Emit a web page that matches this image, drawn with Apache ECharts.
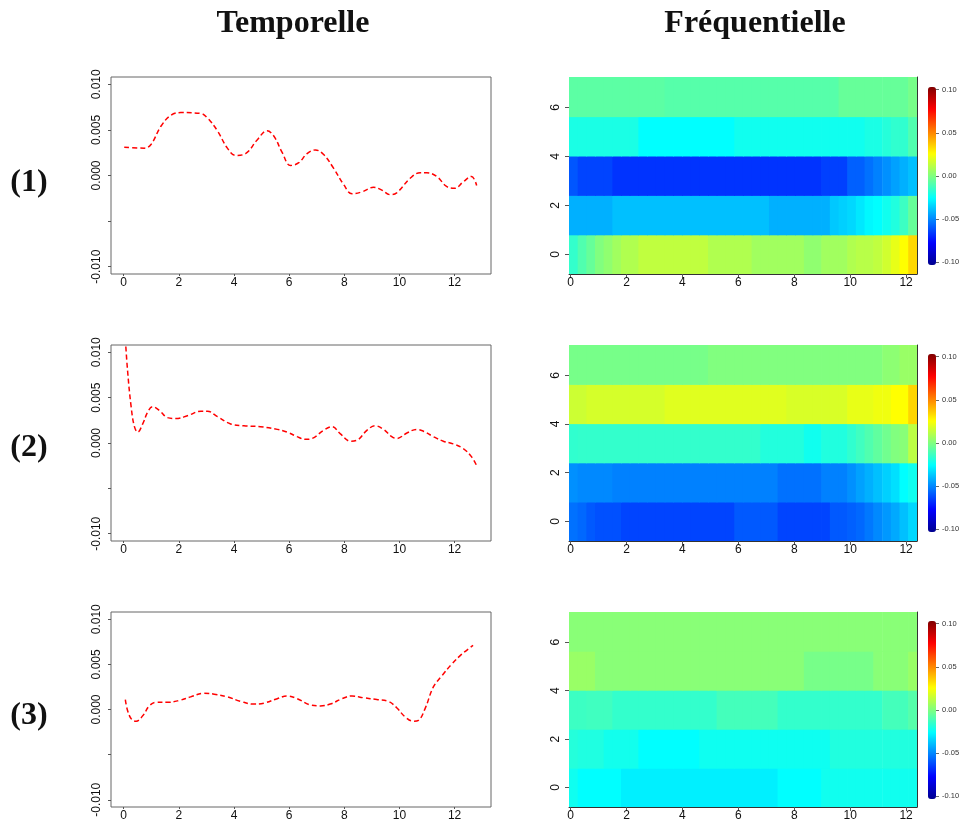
<!DOCTYPE html>
<html>
<head>
<meta charset="utf-8">
<script src="https://cdn.jsdelivr.net/npm/echarts@6/dist/echarts.min.js"></script>
<style>
html,body{margin:0;padding:0;background:#fff;}
#chart{width:963px;height:826px;}
</style>
</head>
<body>
<div id="chart"></div>
<script>
// ---------- Titles ----------
const colTitles = ['Temporelle', 'Fréquentielle'];
const rowLabels = ['(1)', '(2)', '(3)'];

// ---------- Temporal series (x, y) ----------
const tempX1 = [0.02,0.75,0.99,1.35,1.71,2.07,2.8,3.04,3.4,3.76,4.06,4.42,4.84,5.2,5.45,5.75,6.05,6.35,6.65,6.95,7.25,7.61,7.98,8.28,8.64,9.06,9.36,9.66,9.9,10.39,10.75,10.99,11.35,11.71,12.01,12.31,12.61,12.8];
const tempY1 = [0.0031,0.0030,0.0034,0.0054,0.0066,0.0069,0.0068,0.0063,0.0049,0.0030,0.0022,0.0024,0.0039,0.0049,0.0043,0.0025,0.0011,0.0014,0.0024,0.0028,0.0023,0.0008,-0.0010,-0.0020,-0.0018,-0.0013,-0.0016,-0.0021,-0.0019,-0.0003,0.0003,0.0003,-0.0001,-0.0012,-0.0014,-0.0007,-0.0001,-0.0011];

const tempX2 = [0.06,0.14,0.27,0.39,0.51,0.69,0.87,1.05,1.29,1.59,1.89,2.31,2.8,3.04,3.4,3.88,4.36,4.96,5.57,5.93,6.29,6.59,6.83,7.25,7.55,7.86,8.22,8.46,8.82,9.12,9.42,9.72,9.9,10.27,10.63,10.87,11.23,11.59,11.95,12.31,12.61,12.8];
const tempY2 = [0.0115,0.0080,0.0040,0.0018,0.0012,0.0021,0.0034,0.0040,0.0036,0.0028,0.0027,0.0030,0.0035,0.0035,0.0029,0.0021,0.0019,0.0018,0.0015,0.0012,0.0007,0.0004,0.0005,0.0014,0.0018,0.0010,0.0002,0.0003,0.0014,0.0019,0.0015,0.0007,0.0005,0.0011,0.0015,0.0013,0.0007,0.0002,-0.0001,-0.0006,-0.0015,-0.0025];

const tempX3 = [0.06,0.14,0.29,0.45,0.69,0.93,1.17,1.59,2.01,2.43,2.92,3.28,3.76,4.24,4.72,5.08,5.57,5.93,6.29,6.77,7.13,7.49,7.92,8.28,8.7,9.18,9.6,9.9,10.2,10.51,10.69,10.93,11.23,11.53,11.89,12.25,12.67];
const tempY3 = [0.0011,-0.0001,-0.0011,-0.0013,-0.0007,0.0004,0.0008,0.0008,0.0010,0.0014,0.0018,0.0017,0.0014,0.0009,0.0006,0.0007,0.0012,0.0015,0.0012,0.0005,0.0004,0.0006,0.0012,0.0015,0.0013,0.0011,0.0009,0.0002,-0.0008,-0.0013,-0.0012,0.0001,0.0025,0.0037,0.0050,0.0061,0.0071];

const tempXTicks = [0, 2, 4, 6, 8, 10, 12];
const tempYTicks = [-0.01, -0.005, 0, 0.005, 0.01];
const tempYLabels = [-0.01, 0, 0.005, 0.01];

// ---------- Frequency heatmaps ----------
const freqX = [0.10,0.41,0.72,1.03,1.34,1.65,1.96,2.27,2.58,2.89,3.21,3.52,3.83,4.14,4.45,4.76,5.07,5.38,5.70,6.01,6.32,6.63,6.94,7.25,7.56,7.87,8.18,8.50,8.81,9.12,9.43,9.74,10.05,10.36,10.67,10.98,11.30,11.61,11.92,12.23];
const freqY = [0, 1.61, 3.22, 4.83, 6.44];
const freqXTicks = [0, 2, 4, 6, 8, 10, 12];
const freqYTicks = [0, 2, 4, 6];
const colorbarTicks = [-0.1, -0.05, 0, 0.05, 0.1];

// heatmap (1), rows from y=0 upward
const hm1Row0 = [-0.015,-0.0093,-0.005,0.0001,0.0032,0.0064,0.0095,0.0095,0.0126,0.0126,0.0126,0.0126,0.0126,0.0126,0.0126,0.0126,0.0095,0.0095,0.0095,0.0095,0.0095,0.0064,0.0064,0.0064,0.0064,0.0064,0.0064,0.0032,0.0032,0.0064,0.0064,0.0064,0.0095,0.011,0.011,0.0126,0.0158,0.0205,0.025,0.0326];
const hm1Row1 = [-0.0405,-0.0405,-0.0405,-0.0405,-0.0405,-0.0374,-0.0374,-0.0374,-0.0374,-0.0374,-0.0374,-0.0374,-0.0374,-0.0374,-0.0374,-0.0374,-0.0374,-0.0374,-0.0374,-0.0374,-0.0374,-0.0374,-0.0374,-0.0405,-0.0405,-0.0405,-0.0405,-0.0405,-0.0405,-0.0405,-0.0358,-0.0342,-0.0326,-0.0295,-0.0264,-0.025,-0.0219,-0.0187,-0.0132,-0.005];
const hm1Row2 = [-0.0583,-0.0617,-0.0617,-0.0617,-0.0617,-0.065,-0.065,-0.065,-0.065,-0.065,-0.065,-0.065,-0.065,-0.065,-0.065,-0.065,-0.065,-0.065,-0.065,-0.065,-0.065,-0.065,-0.065,-0.065,-0.065,-0.065,-0.065,-0.065,-0.065,-0.0625,-0.0625,-0.0625,-0.0562,-0.0562,-0.053,-0.0499,-0.0468,-0.0436,-0.0405,-0.0374];
const hm1Row3 = [-0.0199,-0.0199,-0.0199,-0.0199,-0.0199,-0.0199,-0.0199,-0.0199,-0.025,-0.025,-0.025,-0.025,-0.025,-0.025,-0.025,-0.025,-0.025,-0.025,-0.025,-0.0219,-0.0219,-0.0219,-0.0219,-0.0219,-0.0219,-0.0219,-0.0219,-0.0219,-0.0219,-0.0219,-0.0219,-0.0219,-0.0219,-0.0219,-0.0199,-0.0199,-0.0178,-0.0156,-0.0156,-0.0093];
const hm1Row4 = [-0.007,-0.007,-0.007,-0.007,-0.007,-0.007,-0.007,-0.007,-0.007,-0.007,-0.007,-0.0083,-0.0083,-0.0083,-0.0083,-0.0083,-0.0083,-0.0083,-0.0083,-0.0083,-0.0083,-0.0083,-0.0083,-0.0083,-0.0083,-0.0083,-0.0083,-0.0083,-0.0083,-0.0083,-0.0083,-0.005,-0.005,-0.005,-0.005,-0.005,-0.005,-0.005,-0.005,-0.0017];

// heatmap (2)
const hm2Row0 = [-0.053,-0.0546,-0.0577,-0.0593,-0.0593,-0.0593,-0.0617,-0.0617,-0.0617,-0.0617,-0.0617,-0.0617,-0.0617,-0.0617,-0.0617,-0.0617,-0.0617,-0.0617,-0.0617,-0.0577,-0.0577,-0.0577,-0.0577,-0.0577,-0.0617,-0.0617,-0.0617,-0.0617,-0.0617,-0.0617,-0.0577,-0.0577,-0.0562,-0.0546,-0.0515,-0.0483,-0.0452,-0.042,-0.0374,-0.0326];
const hm2Row1 = [-0.0468,-0.0483,-0.0483,-0.0483,-0.0483,-0.0499,-0.0499,-0.0499,-0.0499,-0.0499,-0.0499,-0.0499,-0.0499,-0.0499,-0.0499,-0.0499,-0.0499,-0.0499,-0.0499,-0.0499,-0.0499,-0.0499,-0.0499,-0.0499,-0.053,-0.053,-0.053,-0.053,-0.053,-0.0499,-0.0499,-0.0499,-0.0468,-0.0436,-0.0405,-0.0374,-0.0342,-0.0311,-0.025,-0.0219];
const hm2Row2 = [-0.0156,-0.015,-0.015,-0.015,-0.015,-0.015,-0.015,-0.015,-0.015,-0.015,-0.015,-0.015,-0.015,-0.015,-0.015,-0.015,-0.015,-0.015,-0.015,-0.015,-0.015,-0.015,-0.0183,-0.0183,-0.0183,-0.0183,-0.0183,-0.0219,-0.0219,-0.0187,-0.0187,-0.0187,-0.0156,-0.0125,-0.0093,-0.0062,-0.003,0.0001,0.0015,0.0118];
const hm2Row3 = [0.015,0.015,0.0168,0.0168,0.0168,0.0168,0.0168,0.0168,0.0168,0.0168,0.0168,0.0189,0.0189,0.0189,0.0189,0.0189,0.0189,0.0189,0.0189,0.0189,0.0189,0.0189,0.0189,0.0189,0.0189,0.0174,0.0174,0.0174,0.0174,0.0174,0.0174,0.0174,0.0205,0.0205,0.0205,0.022,0.022,0.025,0.025,0.0333];
const hm2Row4 = [-0.0017,-0.0017,-0.0017,-0.0017,-0.0017,-0.0017,-0.0017,-0.0017,-0.0017,-0.0017,-0.0017,-0.0017,-0.0017,-0.0017,-0.0017,-0.0017,0.0001,0.0001,0.0001,0.0001,0.0001,0.0001,0.0001,0.0001,0.0001,0.0001,0.0001,0.0001,0.0001,0.0001,0.0001,0.0001,0.0001,0.0001,0.0001,0.0001,0.0025,0.0025,0.005,0.005];

// heatmap (3)
const hm3Row0 = [-0.022,-0.025,-0.025,-0.025,-0.025,-0.025,-0.0279,-0.0279,-0.0279,-0.0279,-0.0279,-0.0279,-0.0279,-0.0279,-0.0279,-0.0279,-0.0279,-0.0279,-0.0279,-0.0279,-0.0279,-0.0279,-0.0279,-0.0279,-0.025,-0.025,-0.025,-0.025,-0.025,-0.0219,-0.0219,-0.0219,-0.0219,-0.0219,-0.0219,-0.0219,-0.0219,-0.0219,-0.0219,-0.0219];
const hm3Row1 = [-0.018,-0.019,-0.019,-0.019,-0.0215,-0.0215,-0.0215,-0.0215,-0.025,-0.025,-0.025,-0.025,-0.025,-0.025,-0.025,-0.0222,-0.0222,-0.0222,-0.0222,-0.0222,-0.0222,-0.0222,-0.0222,-0.0222,-0.0222,-0.0222,-0.0222,-0.0222,-0.0222,-0.0222,-0.0187,-0.0187,-0.0187,-0.0187,-0.0187,-0.0187,-0.0187,-0.0187,-0.0187,-0.0187];
const hm3Row2 = [-0.0132,-0.0132,-0.0125,-0.0125,-0.0125,-0.015,-0.015,-0.015,-0.015,-0.015,-0.015,-0.015,-0.015,-0.015,-0.015,-0.015,-0.015,-0.0117,-0.0117,-0.0117,-0.0117,-0.0117,-0.0117,-0.0117,-0.015,-0.015,-0.015,-0.015,-0.015,-0.015,-0.015,-0.015,-0.015,-0.015,-0.015,-0.015,-0.0117,-0.0117,-0.0117,-0.0083];
const hm3Row3 = [0.005,0.005,0.005,0.0017,0.0017,0.0017,0.0017,0.0017,0.0017,0.0017,0.0017,0.0017,0.0017,0.0017,0.0017,0.0017,0.0017,0.0017,0.0017,0.0017,0.0017,0.0017,0.0017,0.0017,0.0017,0.0017,0.0017,-0.0017,-0.0017,-0.0017,-0.0017,-0.0017,-0.0017,-0.0017,-0.0017,0.0017,0.0017,0.0017,0.0017,0.005];
const hm3Row4 = [0.0017,0.0017,0.0017,0.0017,0.0017,0.0017,0.0017,0.0017,0.0017,0.0017,0.0017,0.0017,0.0017,0.0017,0.0017,0.0017,0.0017,0.0017,0.0017,0.0017,0.0017,0.0017,0.0017,0.0017,0.0017,0.0017,0.0017,0.0017,0.0017,0.0017,0.0017,0.0017,0.0017,0.0017,0.0017,0.0017,0.0017,0.0017,0.0017,0.0017];

// ---------- Build ----------
const CELL_W = 0.31125, CELL_H = 1.61;
const jet = ['#00008F','#0000FF','#0080FF','#00FFFF','#80FF80','#FFFF00','#FF8000','#FF0000','#800000'];
const sansFont = 'Liberation Sans, Arial, sans-serif';
const serifFont = 'Liberation Serif, Times New Roman, serif';

function buildHeat(rows) {
  const out = [];
  rows.forEach((row, j) => row.forEach((v, i) => out.push([freqX[i], freqY[j], v])));
  return out;
}
const heatData = [
  buildHeat([hm1Row0, hm1Row1, hm1Row2, hm1Row3, hm1Row4]),
  buildHeat([hm2Row0, hm2Row1, hm2Row2, hm2Row3, hm2Row4]),
  buildHeat([hm3Row0, hm3Row1, hm3Row2, hm3Row3, hm3Row4])
];
const lineData = [
  tempX1.map((x, i) => [x, tempY1[i]]),
  tempX2.map((x, i) => [x, tempY2[i]]),
  tempX3.map((x, i) => [x, tempY3[i]])
];

const rowTops = [77, 345, 612];
const rowHeights = [197, 196, 195];

const grids = [], xAxes = [], yAxes = [], series = [], visualMaps = [];

// line grids 0..2
for (let r = 0; r < 3; r++) {
  grids.push({left: 111, top: rowTops[r], width: 380, height: rowHeights[r], show: true, borderColor: '#666', borderWidth: 1, backgroundColor: 'transparent'});
  xAxes.push({
    type: 'value', gridIndex: r, min: -0.46, max: 13.32, position: 'bottom',
    axisLine: {show: false, onZero: false}, splitLine: {show: false},
    axisTick: {show: true, length: 2, customValues: tempXTicks, lineStyle: {color: '#555'}},
    axisLabel: {customValues: tempXTicks, margin: 3, fontSize: 12, color: '#111', fontFamily: sansFont}
  });
  yAxes.push({
    type: 'value', gridIndex: r, min: -0.0108, max: 0.0108, position: 'left',
    axisLine: {show: false, onZero: false}, splitLine: {show: false},
    axisTick: {show: true, length: 3, customValues: tempYTicks, lineStyle: {color: '#555'}},
    axisLabel: {customValues: tempYLabels, rotate: 90, margin: 8, fontSize: 12, color: '#111', fontFamily: sansFont,
      formatter: v => v.toFixed(3)}
  });
  series.push({
    type: 'line', xAxisIndex: r, yAxisIndex: r, data: lineData[r], smooth: 0.4, showSymbol: false, symbol: 'none',
    clip: true, lineStyle: {color: '#FF0000', width: 1.5, type: [5, 3]}
  });
}

// heatmap grids 3..5
for (let r = 0; r < 3; r++) {
  const gi = 3 + r;
  grids.push({left: 569, top: rowTops[r], width: 348, height: rowHeights[r]});
  xAxes.push({
    type: 'value', gridIndex: gi, min: -0.056, max: 12.39, position: 'bottom',
    axisLine: {show: true, onZero: false, lineStyle: {color: '#333', width: 1}}, splitLine: {show: false},
    axisTick: {show: true, length: 4, customValues: freqXTicks, lineStyle: {color: '#555'}},
    axisLabel: {customValues: freqXTicks, margin: 3, fontSize: 12, color: '#111', fontFamily: sansFont}
  });
  yAxes.push({
    type: 'value', gridIndex: gi, min: -0.805, max: 7.245, position: 'left',
    axisLine: {show: false, onZero: false}, splitLine: {show: false},
    axisTick: {show: true, length: 4, customValues: freqYTicks, lineStyle: {color: '#555'}},
    axisLabel: {customValues: freqYTicks, rotate: 90, margin: 7, fontSize: 12, color: '#111', fontFamily: sansFont,
      formatter: v => String(Math.round(v))}
  });
}
// right-edge lines of heatmaps: y axes 6..8
for (let r = 0; r < 3; r++) {
  yAxes.push({
    type: 'value', gridIndex: 3 + r, position: 'right', min: -0.805, max: 7.245,
    axisLine: {show: true, onZero: false, lineStyle: {color: '#333', width: 1}},
    axisTick: {show: false}, axisLabel: {show: false}, splitLine: {show: false}
  });
}
// colorbar grids 6..8, x axes 6..8, y axes 9..11
const cbTops = [87, 354, 621];
for (let r = 0; r < 3; r++) {
  const gi = 6 + r;
  grids.push({left: 928, top: cbTops[r], width: 8, height: 178});
  xAxes.push({type: 'value', gridIndex: gi, min: 0, max: 1, show: false});
  yAxes.push({
    type: 'value', gridIndex: gi, position: 'right', min: -0.103, max: 0.103,
    axisLine: {show: false, onZero: false}, splitLine: {show: false},
    axisTick: {show: true, length: 3, customValues: colorbarTicks, lineStyle: {color: '#444', width: 0.8}},
    axisLabel: {customValues: colorbarTicks, margin: 6, fontSize: 7.5, color: '#333', fontFamily: sansFont,
      formatter: v => v.toFixed(2)}
  });
}

function renderCell(params, api) {
  const x = api.value(0), y = api.value(1);
  const p0 = api.coord([x - CELL_W / 2, y + CELL_H / 2]);
  const p1 = api.coord([x + CELL_W / 2, y - CELL_H / 2]);
  return {
    type: 'rect',
    shape: {x: p0[0], y: p0[1], width: p1[0] - p0[0] + 0.7, height: p1[1] - p0[1] + 0.7},
    style: {fill: api.visual('color')}
  };
}
for (let r = 0; r < 3; r++) {
  series.push({
    type: 'custom', xAxisIndex: 3 + r, yAxisIndex: 3 + r, data: heatData[r],
    renderItem: renderCell, clip: true, encode: {x: 0, y: 1}, z: 1
  });
  visualMaps.push({
    type: 'continuous', seriesIndex: 3 + r, dimension: 2, min: -0.1, max: 0.1,
    inRange: {color: jet}, calculable: false, realtime: false, hoverLink: false,
    left: 928, top: cbTops[r], itemWidth: 8, itemHeight: 178, padding: 0, text: null,
    showLabel: false, orient: 'vertical'
  });
}

const graphics = [
  {type: 'text', x: 293, y: 24, style: {text: colTitles[0], font: 'bold 32px ' + serifFont, fill: '#111', align: 'center', verticalAlign: 'middle'}},
  {type: 'text', x: 755, y: 24, style: {text: colTitles[1], font: 'bold 32px ' + serifFont, fill: '#111', align: 'center', verticalAlign: 'middle'}},
  {type: 'text', x: 29, y: 183, style: {text: rowLabels[0], font: 'bold 32px ' + serifFont, fill: '#111', align: 'center', verticalAlign: 'middle'}},
  {type: 'text', x: 29, y: 448, style: {text: rowLabels[1], font: 'bold 32px ' + serifFont, fill: '#111', align: 'center', verticalAlign: 'middle'}},
  {type: 'text', x: 29, y: 716, style: {text: rowLabels[2], font: 'bold 32px ' + serifFont, fill: '#111', align: 'center', verticalAlign: 'middle'}}
];

const chart = echarts.init(document.getElementById('chart'), null, {renderer: 'canvas'});
chart.setOption({
  animation: false,
  backgroundColor: '#ffffff',
  grid: grids,
  xAxis: xAxes,
  yAxis: yAxes,
  visualMap: visualMaps,
  series: series,
  graphic: graphics
});
</script>
</body>
</html>
